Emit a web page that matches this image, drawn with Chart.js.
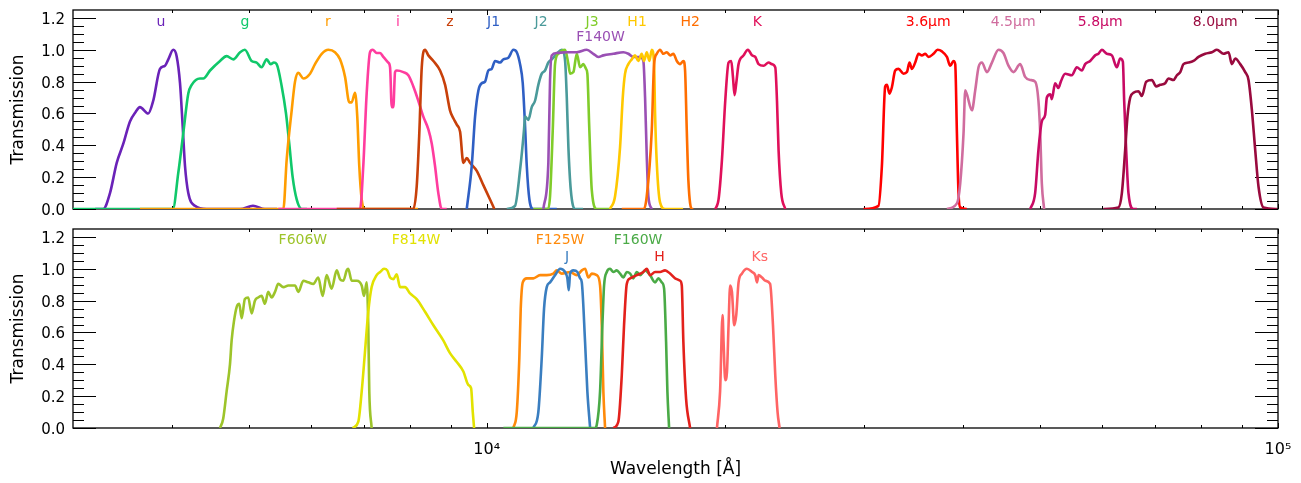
<!DOCTYPE html>
<html>
<head>
<meta charset="utf-8">
<script src="https://cdn.jsdelivr.net/npm/chart.js@4.4.1/dist/chart.umd.min.js"></script>
<style>
  html, body { margin: 0; padding: 0; background: #fff; }
  #wrap { position: relative; width: 1301px; height: 483px; }
  canvas { position: absolute; left: 0; }
  #topPanel { top: 0; }
  #botPanel { top: 219px; }
</style>
</head>
<body>
<div id="wrap">
  <canvas id="topPanel" width="1301" height="219"></canvas>
  <canvas id="botPanel" width="1301" height="264"></canvas>
</div>
<script>
// filter curves, [wavelength in Angstrom, transmission]
const uBand = [[3200,0],[3276,0],[3341,0.10],[3407,0.29],[3473,0.41],[3541,0.55],[3600,0.61],[3645,0.64],[3734,0.60],[3789,0.68],[3864,0.88],[3921,0.90],[3959,0.94],[4016,1.0],[4056,0.96],[4096,0.79],[4128,0.52],[4156,0.27],[4196,0.10],[4278,0.02],[4426,0],[4879,0],[5065,0.02],[5245,0],[5432,0]];
const gBand = [[3000,0],[4012,0],[4075,0.225],[4135,0.475],[4196,0.725],[4238,0.78],[4341,0.82],[4383,0.82],[4470,0.87],[4602,0.93],[4691,0.96],[4783,0.94],[4879,0.985],[4947,1.0],[5045,0.93],[5119,0.92],[5194,0.89],[5270,0.94],[5332,0.91],[5383,0.92],[5426,0.91],[5507,0.77],[5576,0.60],[5629,0.41],[5685,0.20],[5752,0.06],[5836,0],[5927,0]];
const rBand = [[3645,0],[5533,0],[5587,0.31],[5669,0.62],[5724,0.80],[5779,0.855],[5864,0.82],[5980,0.85],[6067,0.91],[6187,0.975],[6308,1.0],[6430,0.985],[6525,0.94],[6621,0.83],[6704,0.67],[6750,0.67],[6816,0.73],[6861,0.58],[6901,0.27],[6950,0.06],[7017,0],[8187,0]];
const iBand = [[5452,0],[6917,0],[6982,0.27],[7051,0.725],[7120,0.985],[7176,1.0],[7259,0.98],[7332,0.98],[7401,0.955],[7509,0.92],[7548,0.89],[7585,0.64],[7620,0.64],[7658,0.86],[7695,0.87],[7845,0.86],[7960,0.84],[8077,0.77],[8195,0.68],[8315,0.58],[8438,0.50],[8522,0.41],[8603,0.27],[8686,0.10],[8773,0],[8901,0]];
const zBand = [[6462,0],[8077,0],[8156,0.14],[8218,0.475],[8277,0.89],[8357,1.0],[8438,0.965],[8562,0.93],[8730,0.87],[8859,0.78],[8986,0.62],[9074,0.57],[9165,0.53],[9254,0.485],[9343,0.29],[9435,0.32],[9526,0.29],[9714,0.24],[9902,0.15],[10097,0.06],[10224,0]];
const j1Band = [[9435,0],[9573,0.27],[9666,0.58],[9760,0.745],[9856,0.79],[9951,0.80],[10047,0.87],[10146,0.88],[10245,0.93],[10395,0.92],[10496,0.94],[10650,0.95],[10806,1.0],[10913,0.985],[11018,0.91],[11105,0.79],[11180,0.52],[11236,0.27],[11322,0.06],[11454,0],[12262,0]];
const j2Band = [[10601,0],[10858,0.02],[11018,0.245],[11147,0.50],[11179,0.58],[11287,0.56],[11399,0.64],[11509,0.68],[11620,0.78],[11736,0.85],[11849,0.87],[11964,0.92],[12083,0.94],[12260,0.975],[12441,1.0],[12561,0.93],[12623,0.70],[12682,0.39],[12771,0.12],[12932,0],[13236,0]];
const j3Band = [[11453,0],[11950,0],[12023,0.08],[12118,0.495],[12199,0.91],[12316,0.975],[12561,1.0],[12682,0.91],[12745,0.85],[12868,0.86],[12996,0.975],[13122,0.89],[13247,0.91],[13351,0.88],[13402,0.85],[13480,0.495],[13575,0.12],[13774,0],[14318,0]];
const f140wBand = [[11791,0],[11964,0.29],[12023,0.81],[12083,0.965],[12260,0.98],[12623,0.985],[12996,0.985],[13378,1.0],[13637,0.975],[13838,0.955],[14041,0.965],[14456,0.975],[14882,0.985],[15100,0.975],[15321,0.955],[15627,0.955],[15774,0.93],[15853,0.70],[15931,0.33],[16006,0.08],[16165,0]];
const h1Band = [[14318,0],[14527,0.08],[14741,0.39],[14856,0.70],[14955,0.85],[15100,0.91],[15250,0.94],[15398,0.965],[15546,0.93],[15700,0.975],[15806,0.93],[15931,0.985],[16053,0.93],[16165,1.0],[16274,0.91],[16321,0.60],[16402,0.29],[16562,0.04],[16803,0],[17706,0]];
const h2Band = [[14813,0],[15800,0],[15931,0.08],[16165,0.495],[16274,0.91],[16402,0.975],[16562,1.0],[16720,0.975],[16887,0.985],[17049,0.965],[17215,0.975],[17386,0.93],[17557,0.91],[17722,0.93],[17810,0.87],[17898,0.495],[17982,0.18],[18160,0],[18245,0]];
const kBand = [[19445,0],[19633,0.06],[19828,0.31],[20019,0.68],[20212,0.92],[20371,0.93],[20472,0.83],[20568,0.715],[20670,0.79],[20809,0.91],[21114,0.965],[21386,1.0],[21637,0.965],[21846,0.955],[22057,0.91],[22381,0.90],[22709,0.92],[22935,0.91],[23156,0.89],[23271,0.68],[23379,0.37],[23563,0.10],[23839,0]];
const irac1Band = [[29934,0],[31268,0.02],[31579,0.27],[31884,0.77],[32042,0.78],[32286,0.725],[32512,0.765],[32826,0.87],[33143,0.88],[33629,0.85],[33963,0.86],[34221,0.92],[34461,0.88],[34794,0.92],[35130,0.975],[35480,0.965],[35822,0.975],[36168,0.955],[36699,0.975],[37129,1.0],[37607,0.99],[38158,0.955],[38526,0.90],[38898,0.93],[39091,0.91],[39284,0.475],[39468,0.10],[39660,0.01],[40445,0]];
const irac2Band = [[38158,0],[39284,0.035],[39660,0.16],[40047,0.475],[40246,0.745],[40445,0.72],[41037,0.62],[41432,0.745],[41832,0.89],[42249,0.92],[42868,0.86],[43497,0.92],[44342,1.0],[44983,0.98],[45641,0.90],[46310,0.86],[47225,0.91],[47912,0.83],[48627,0.81],[49325,0.80],[49800,0.68],[50060,0.475],[50296,0.16],[50634,0]];
const irac3Band = [[48627,0],[49325,0.10],[49800,0.37],[50296,0.55],[50782,0.59],[51034,0.70],[51545,0.72],[51779,0.69],[52279,0.79],[52784,0.76],[53153,0.80],[53823,0.85],[54883,0.84],[55687,0.89],[56508,0.87],[57054,0.91],[57895,0.93],[58739,0.965],[59306,0.975],[59896,1.0],[60773,0.975],[61664,0.965],[62569,0.89],[63173,0.945],[63672,0.925],[63913,0.68],[64286,0.37],[64718,0.10],[65669,0],[66321,0]];
const irac4Band = [[60175,0],[62860,0.01],[63486,0.10],[64098,0.37],[64529,0.58],[65048,0.70],[65669,0.73],[66631,0.74],[67294,0.71],[68141,0.80],[69282,0.81],[70154,0.77],[70984,0.78],[72017,0.79],[72711,0.82],[73778,0.81],[74510,0.84],[75245,0.86],[75952,0.91],[77066,0.92],[78196,0.93],[79346,0.955],[80909,0.975],[82503,0.985],[83713,1.0],[85337,0.975],[86589,0.985],[87451,0.91],[88296,0.945],[89588,0.91],[90900,0.86],[91777,0.81],[92689,0.62],[93585,0.37],[94488,0.14],[95871,0.01],[99708,0]];

const f606wBand = [[4602,0],[4645,0.06],[4691,0.23],[4737,0.40],[4760,0.55],[4792,0.67],[4830,0.76],[4867,0.78],[4901,0.69],[4947,0.81],[4995,0.82],[5045,0.72],[5094,0.80],[5142,0.82],[5194,0.83],[5244,0.78],[5295,0.855],[5348,0.82],[5400,0.855],[5452,0.905],[5533,0.885],[5614,0.895],[5724,0.895],[5779,0.855],[5864,0.925],[5950,0.915],[6037,0.905],[6125,0.945],[6204,0.83],[6276,0.96],[6368,0.875],[6462,0.99],[6525,0.935],[6588,0.925],[6653,0.99],[6683,1.0],[6750,0.925],[6851,0.925],[6950,0.895],[6997,0.83],[7051,0.915],[7084,0.645],[7105,0.23],[7154,0]];
const f814wBand = [[6770,0],[6882,0.04],[6950,0.23],[7017,0.48],[7084,0.73],[7154,0.885],[7259,0.96],[7332,0.98],[7417,1.0],[7487,0.99],[7548,0.945],[7620,0.935],[7695,0.965],[7770,0.885],[7884,0.885],[8000,0.845],[8156,0.81],[8357,0.73],[8562,0.645],[8812,0.55],[8986,0.47],[9165,0.415],[9343,0.355],[9480,0.27],[9555,0.25],[9602,0.10],[9639,0]];
const f125wBand = [[10804,0],[10913,0.10],[10995,0.44],[11040,0.75],[11105,0.915],[11236,0.94],[11454,0.94],[11679,0.96],[11908,0.96],[12140,0.97],[12260,0.99],[12441,0.97],[12745,0.98],[12996,0.96],[13186,0.99],[13313,1.0],[13441,0.945],[13575,0.97],[13774,0.96],[13907,0.895],[13976,0.645],[14041,0.23],[14111,0]];
const jBand = [[11454,0],[11620,0.10],[11736,0.44],[11815,0.75],[11908,0.885],[12023,0.915],[12199,0.96],[12381,1.0],[12561,0.98],[12645,0.94],[12696,0.865],[12745,0.97],[12868,0.99],[13019,0.98],[13122,0.94],[13186,0.915],[13313,0.54],[13402,0.23],[13510,0]];
const f160wBand = [[10496,0],[13700,0],[13774,0.02],[13907,0.23],[14001,0.645],[14070,0.895],[14181,0.98],[14318,1.0],[14456,0.98],[14599,0.99],[14741,0.97],[14882,0.945],[15030,0.98],[15180,0.97],[15321,0.94],[15474,0.98],[15627,0.96],[15853,0.99],[16085,0.96],[16321,0.915],[16479,0.94],[16643,0.915],[16755,0.875],[16853,0.54],[16917,0.23],[17001,0]];
const hBand = [[14456,0],[14667,0.04],[14813,0.33],[14912,0.645],[15030,0.905],[15180,0.94],[15474,0.96],[15774,0.98],[15931,1.0],[16085,0.96],[16321,0.98],[16562,0.98],[16803,0.99],[17049,0.97],[17300,0.94],[17557,0.925],[17640,0.895],[17722,0.54],[17862,0.185],[18072,0]];
const ksBand = [[19541,0],[19720,0.23],[19863,0.71],[19921,0.54],[20019,0.30],[20118,0.35],[20212,0.645],[20306,0.895],[20412,0.855],[20549,0.645],[20670,0.71],[20809,0.915],[21015,0.97],[21324,1.0],[21637,0.98],[21846,0.96],[21954,0.915],[22057,0.96],[22277,0.945],[22492,0.925],[22810,0.905],[23002,0.645],[23156,0.33],[23311,0.10],[23447,0]];

// name, curve, colour (drawing order: later ones on top)
const topSeries = [
  ['u', uBand, '#6a22b8'], ['g', gBand, '#10c86a'], ['r', rBand, '#ff9d00'],
  ['i', iBand, '#ff3c9e'], ['z', zBand, '#c8400a'], ['J1', j1Band, '#2f5fc4'],
  ['J2', j2Band, '#4a9a9a'], ['J3', j3Band, '#80cc2a'], ['F140W', f140wBand, '#9a50b4'],
  ['H1', h1Band, '#ffc800'], ['H2', h2Band, '#ff6e00'], ['K', kBand, '#e0105a'],
  ['3.6μm', irac1Band, '#ff0000'], ['4.5μm', irac2Band, '#d06c9e'],
  ['5.8μm', irac3Band, '#c80a64'], ['8.0μm', irac4Band, '#990a3e']
];
const botSeries = [
  ['F606W', f606wBand, '#9dc42a'], ['F814W', f814wBand, '#e2e200'],
  ['F125W', f125wBand, '#ff8a0a'], ['J', jBand, '#3a7ec0'],
  ['F160W', f160wBand, '#4aaa46'], ['H', hBand, '#e3211c'], ['Ks', ksBand, '#ff6464']
];

// label text, wavelength, transmission (same order as the series)
const topLabels = [
  ['u', 3875, 1.172], ['g', 4947, 1.172], ['r', 6300, 1.172], ['i', 7725, 1.172],
  ['z', 8986, 1.172], ['J1', 10200, 1.172], ['J2', 11712, 1.172], ['J3', 13587, 1.172],
  ['F140W', 13927, 1.079], ['H1', 15488, 1.172], ['H2', 18072, 1.172], ['K', 21973, 1.172],
  ['3.6μm', 36136, 1.172], ['4.5μm', 46270, 1.172], ['5.8μm', 59609, 1.172], ['8.0μm', 83300, 1.172]
];
const botLabels = [
  ['F606W', 5857, 1.177], ['F814W', 8140, 1.177], ['F125W', 12381, 1.177],
  ['J', 12634, 1.072], ['F160W', 15533, 1.177], ['H', 16537, 1.072], ['Ks', 22134, 1.072]
];

const yTickValues = [0, 0.2, 0.4, 0.6, 0.8, 1.0, 1.2];
const yMinorTicks = [0.05, 0.1, 0.15, 0.25, 0.3, 0.35, 0.45, 0.5, 0.55, 0.65, 0.7, 0.75, 0.85, 0.9, 0.95, 1.05, 1.1, 1.15];
const xMajorTicks = [10000, 100000];
const xMinorTicks = [4000, 5000, 6000, 7000, 8000, 9000, 20000, 30000, 40000, 50000, 60000, 70000, 80000, 90000];

const FONT = '"DejaVu Sans", sans-serif';

// IDL-like box with inward ticks on all four sides
const framePlugin = {
  id: 'idlFrame',
  beforeDatasetsDraw(chart) {
    const { ctx, chartArea: a } = chart;
    const xs = chart.scales.x, ys = chart.scales.y;
    ctx.save();
    ctx.strokeStyle = '#000';
    ctx.lineWidth = 1.3;
    ctx.strokeRect(a.left, a.top, a.right - a.left, a.bottom - a.top);
    ctx.lineWidth = 1;
    ctx.beginPath();
    const yt = (v, len) => {
      const p = Math.round(ys.getPixelForValue(v)) + 0.5;
      ctx.moveTo(a.left, p); ctx.lineTo(a.left + len, p);
      ctx.moveTo(a.right, p); ctx.lineTo(a.right - len, p);
    };
    const xt = (v, len) => {
      const p = Math.round(xs.getPixelForValue(v)) + 0.5;
      ctx.moveTo(p, a.bottom); ctx.lineTo(p, a.bottom - len);
      ctx.moveTo(p, a.top); ctx.lineTo(p, a.top + len);
    };
    yTickValues.forEach(v => yt(v, 23));
    yMinorTicks.forEach(v => yt(v, 11));
    xMajorTicks.forEach(v => xt(v, 5));
    xMinorTicks.forEach(v => xt(v, 3));
    ctx.stroke();
    ctx.restore();
  }
};

function labelPlugin(labels, series) {
  return {
    id: 'bandLabels',
    afterDatasetsDraw(chart) {
      const ctx = chart.ctx;
      ctx.save();
      ctx.font = '14px ' + FONT;
      ctx.textAlign = 'center';
      ctx.textBaseline = 'middle';
      labels.forEach((l, i) => {
        ctx.fillStyle = series[i][2];
        ctx.fillText(l[0], chart.scales.x.getPixelForValue(l[1]), chart.scales.y.getPixelForValue(l[2]));
      });
      ctx.restore();
    }
  };
}

function makePanel(id, series, labels, bottom) {
  const datasets = series.map((s, i) => ({
    label: s[0],
    data: s[1].map(p => ({ x: p[0], y: p[1] })),
    borderColor: s[2],
    borderWidth: 2.6,
    pointRadius: 0,
    fill: false,
    cubicInterpolationMode: 'monotone',
    order: series.length - i
  }));

  return new Chart(document.getElementById(id), {
    type: 'line',
    data: { datasets: datasets },
    options: {
      responsive: false,
      animation: false,
      layout: { padding: { top: 10, right: 23, left: 0, bottom: 0 } },
      plugins: { legend: { display: false }, tooltip: { enabled: false } },
      scales: {
        x: {
          type: 'logarithmic',
          min: 3000,
          max: 100000,
          afterBuildTicks: s => { s.ticks = xMajorTicks.map(v => ({ value: v })); },
          afterFit: s => {
            s.height = bottom ? 55 : 10;
            s.paddingLeft = 0; s.paddingRight = 0;
          },
          grid: { display: false, drawTicks: false },
          border: { display: false },
          ticks: {
            display: bottom,
            autoSkip: false,
            maxRotation: 0,
            padding: 12,
            color: '#000',
            font: { family: FONT, size: 16 },
            callback: v => (v === 10000 ? '10⁴' : (v === 100000 ? '10⁵' : ''))
          },
          title: {
            display: bottom,
            text: 'Wavelength [Å]',
            color: '#000',
            font: { family: FONT, size: 17 },
            padding: { top: 0, bottom: 3 }
          }
        },
        y: {
          type: 'linear',
          min: 0,
          max: 1.25,
          afterBuildTicks: s => { s.ticks = yTickValues.map(v => ({ value: v })); },
          afterFit: s => {
            s.width = 73;
            s.paddingTop = 0; s.paddingBottom = 0;
          },
          grid: { display: false, drawTicks: false },
          border: { display: false },
          ticks: {
            padding: 8,
            labelOffset: 2,
            color: '#000',
            font: { family: FONT, size: 15 },
            callback: v => v.toFixed(1)
          },
          title: {
            display: true,
            text: 'Transmission',
            color: '#000',
            font: { family: FONT, size: 17 },
            padding: { top: 8, bottom: 0 }
          }
        }
      }
    },
    plugins: [framePlugin, labelPlugin(labels, series)]
  });
}

makePanel('topPanel', topSeries, topLabels, false);
makePanel('botPanel', botSeries, botLabels, true);
</script>
</body>
</html>
